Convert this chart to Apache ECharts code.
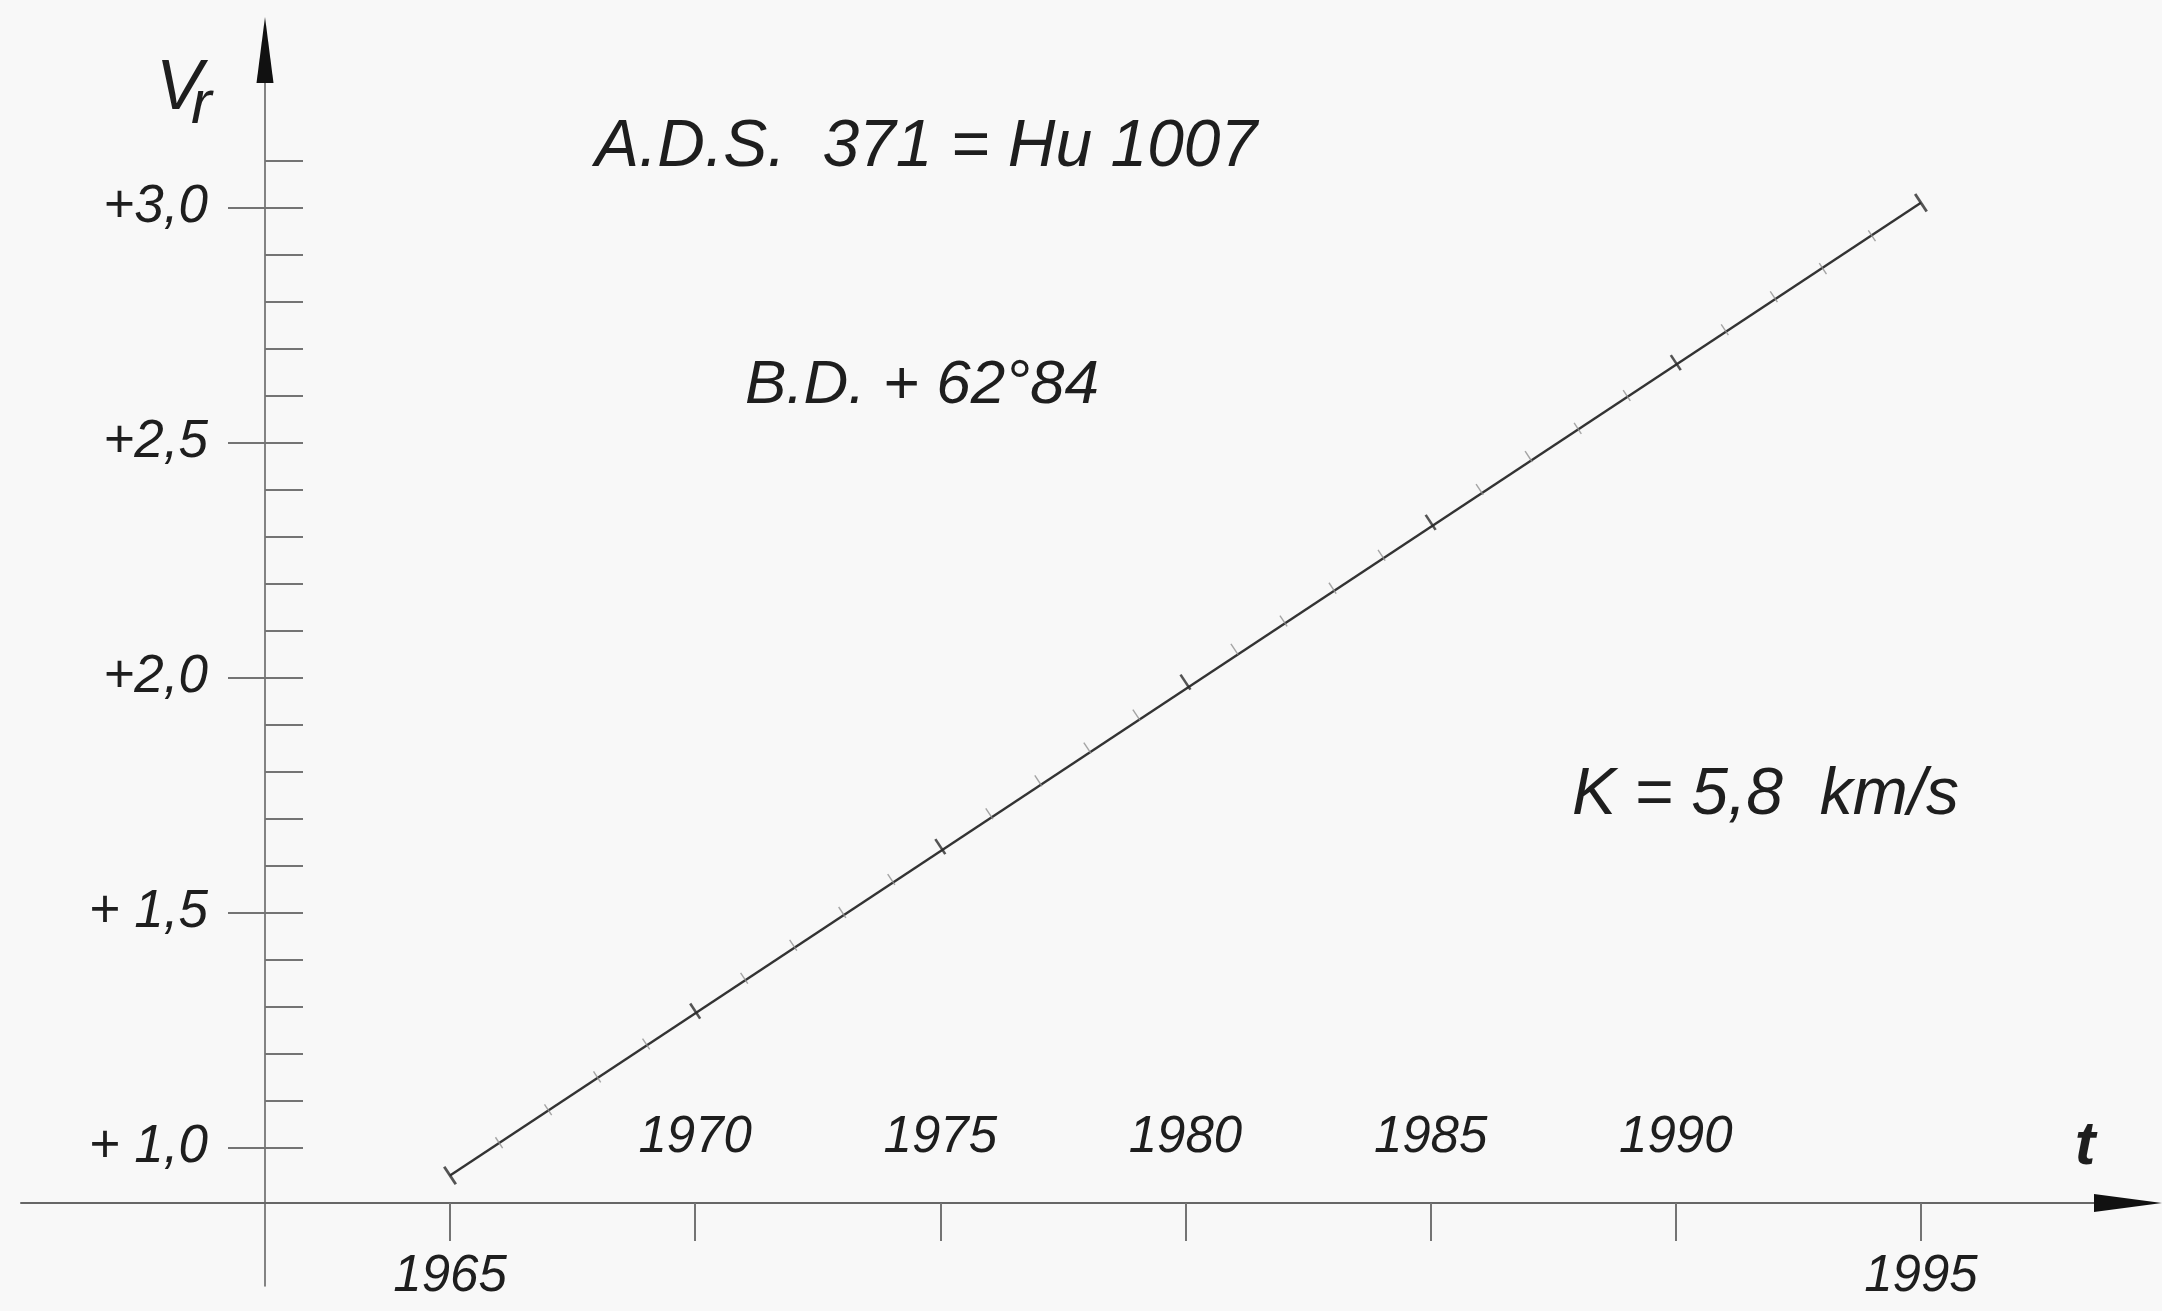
<!DOCTYPE html>
<html>
<head>
<meta charset="utf-8">
<title>A.D.S. 371 = Hu 1007 – radial velocity</title>
<script src="https://cdn.jsdelivr.net/npm/echarts@6/dist/echarts.min.js"></script>
<style>
  html, body { margin: 0; padding: 0; background: #f8f8f8; }
  #chart { width: 2162px; height: 1311px; }
</style>
</head>
<body>
<div id="chart"></div>
<script>
// Radial velocity V_r of A.D.S. 371 against time t (years)
const years = [1965, 1966, 1967, 1968, 1969, 1970, 1971, 1972, 1973, 1974,
               1975, 1976, 1977, 1978, 1979, 1980, 1981, 1982, 1983, 1984,
               1985, 1986, 1987, 1988, 1989, 1990, 1991, 1992, 1993, 1994, 1995];
const vr = [0.94, 1.01, 1.08, 1.15, 1.22, 1.29, 1.36, 1.43, 1.50, 1.57,
            1.64, 1.71, 1.78, 1.85, 1.92, 1.99, 2.06, 2.12, 2.19, 2.26,
            2.33, 2.40, 2.47, 2.53, 2.60, 2.67, 2.74, 2.81, 2.87, 2.94, 3.01];

// axis ticks and their labels
const xTickYears = [1965, 1970, 1975, 1980, 1985, 1990, 1995];
const xLabelsAbove = [1970, 1975, 1980, 1985, 1990];
const xLabelsBelow = [1965, 1995];
const yMajorTicks = [1.0, 1.5, 2.0, 2.5, 3.0];
const yTickLabels = ['+ 1,0', '+ 1,5', '+2,0', '+2,5', '+3,0'];
const yMinorTicks = [1.0, 1.1, 1.2, 1.3, 1.4, 1.5, 1.6, 1.7, 1.8, 1.9, 2.0,
                     2.1, 2.2, 2.3, 2.4, 2.5, 2.6, 2.7, 2.8, 2.9, 3.0, 3.1];

// annotations
const titleText = 'A.D.S.  371 = Hu 1007';
const starText = 'B.D. + 62°84';
const amplitudeText = 'K = 5,8  km/s';
const yName = 'V';
const yNameSub = 'r';
const xName = 't';

const FONT = "'Liberation Sans', 'DejaVu Sans', Arial, sans-serif";
const INK = '#1e1e1e';
const AXIS = '#666';
const TICK = '#747474';

// visible extent of the drawn axes
const X_MIN = 1956.25, X_MAX = 1998.53;
const Y_MIN = 0.705, Y_MAX = 3.265;

const chart = echarts.init(document.getElementById('chart'), null, { renderer: 'canvas' });

function yLabel(v) {
  const i = yMajorTicks.findIndex(t => Math.abs(t - v) < 1e-6);
  return i >= 0 ? yTickLabels[i] : '';
}
function yearLabel(v) {
  return String(Math.round(v));
}

// the straight line runs between the first and last reading
const n = years.length;
const lineEnds = [[years[0], vr[0]], [years[n - 1], vr[n - 1]]];

// marks across the line: end caps, five-year marks, yearly marks
const markData = years.map((y, i) => {
  const isEnd = i === 0 || i === n - 1;
  const isMajor = y % 5 === 0;
  return {
    value: [y, vr[i]],
    symbolSize: isEnd ? [2.8, 21] : (isMajor ? [2.6, 18] : [1.4, 13]),
    itemStyle: { color: isEnd || isMajor ? '#2a2a2a' : '#8e8e8e' }
  };
});

const labelStyle = { fontFamily: FONT, fontStyle: 'italic', color: INK };

const option = {
  backgroundColor: '#f8f8f8',
  animation: false,
  grid: { left: 21, right: 68, top: 83, bottom: 25, containLabel: false },
  xAxis: [
    {
      type: 'value', min: X_MIN, max: X_MAX, position: 'bottom', offset: -83,
      axisLine: { show: true, onZero: false, lineStyle: { color: AXIS, width: 2 } },
      axisTick: { show: true, customValues: xTickYears, length: 38, lineStyle: { color: TICK, width: 2 } },
      axisLabel: { show: true, customValues: xLabelsBelow, formatter: yearLabel, margin: 48, fontSize: 51, ...labelStyle },
      splitLine: { show: false }
    },
    {
      type: 'value', min: X_MIN, max: X_MAX, position: 'bottom', offset: -83,
      axisLine: {
        show: true, onZero: false, lineStyle: { color: '#111', width: 0 },
        symbol: ['none', 'triangle'], symbolSize: [18, 68], symbolOffset: [0, 34]
      },
      axisTick: { show: false },
      axisLabel: { show: true, inside: true, customValues: xLabelsAbove, formatter: yearLabel, margin: 40, fontSize: 51, ...labelStyle },
      splitLine: { show: false }
    }
  ],
  yAxis: [
    {
      type: 'value', min: Y_MIN, max: Y_MAX, position: 'left', offset: -244,
      axisLine: { show: true, onZero: false, lineStyle: { color: AXIS, width: 1.6 } },
      axisTick: { show: true, customValues: yMajorTicks, length: 37, lineStyle: { color: TICK, width: 2 } },
      axisLabel: { show: true, customValues: yMajorTicks, formatter: yLabel, margin: 57, fontSize: 53, ...labelStyle },
      splitLine: { show: false }
    },
    {
      type: 'value', min: Y_MIN, max: Y_MAX, position: 'left', offset: -244,
      axisLine: {
        show: true, onZero: false, lineStyle: { color: '#111', width: 0 },
        symbol: ['none', 'triangle'], symbolSize: [17, 66], symbolOffset: [0, 33]
      },
      axisTick: { show: true, inside: true, customValues: yMinorTicks, length: 38, lineStyle: { color: TICK, width: 2 } },
      axisLabel: { show: false },
      splitLine: { show: false }
    }
  ],
  series: [
    {
      type: 'line',
      xAxisIndex: 0, yAxisIndex: 0,
      data: lineEnds,
      showSymbol: false,
      lineStyle: { color: '#333', width: 2.4 },
      emphasis: { disabled: true },
      z: 4
    },
    {
      type: 'scatter',
      xAxisIndex: 0, yAxisIndex: 0,
      data: markData,
      symbol: 'rect',
      emphasis: { disabled: true },
      z: 5
    }
  ],
  graphic: [
    { type: 'text', x: 156, y: 90, style: { text: yName, fontSize: 70, fontFamily: FONT, fontStyle: 'italic', fill: INK, align: 'left', verticalAlign: 'middle' } },
    { type: 'text', x: 191, y: 106, style: { text: yNameSub, fontSize: 62, fontFamily: FONT, fontStyle: 'italic', fill: INK, align: 'left', verticalAlign: 'middle' } },
    { type: 'text', x: 2085, y: 1147, style: { text: xName, fontSize: 62, fontFamily: FONT, fontStyle: 'italic', fontWeight: 'bold', fill: INK, align: 'center', verticalAlign: 'middle' } },
    { type: 'text', x: 595, y: 148, style: { text: titleText, fontSize: 66, fontFamily: FONT, fontStyle: 'italic', fill: INK, align: 'left', verticalAlign: 'middle' } },
    { type: 'text', x: 745, y: 386, style: { text: starText, fontSize: 62, fontFamily: FONT, fontStyle: 'italic', fill: INK, align: 'left', verticalAlign: 'middle' } },
    { type: 'text', x: 1572, y: 796, style: { text: amplitudeText, fontSize: 66, fontFamily: FONT, fontStyle: 'italic', fill: INK, align: 'left', verticalAlign: 'middle' } }
  ]
};

chart.setOption(option);

// turn the rectangular marks so they sit across the line
const p0 = chart.convertToPixel({ xAxisIndex: 0, yAxisIndex: 0 }, lineEnds[0]);
const p1 = chart.convertToPixel({ xAxisIndex: 0, yAxisIndex: 0 }, lineEnds[1]);
const angle = Math.atan2(p0[1] - p1[1], p1[0] - p0[0]) * 180 / Math.PI;
chart.setOption({ series: [{}, { symbolRotate: angle }] });
</script>
</body>
</html>
